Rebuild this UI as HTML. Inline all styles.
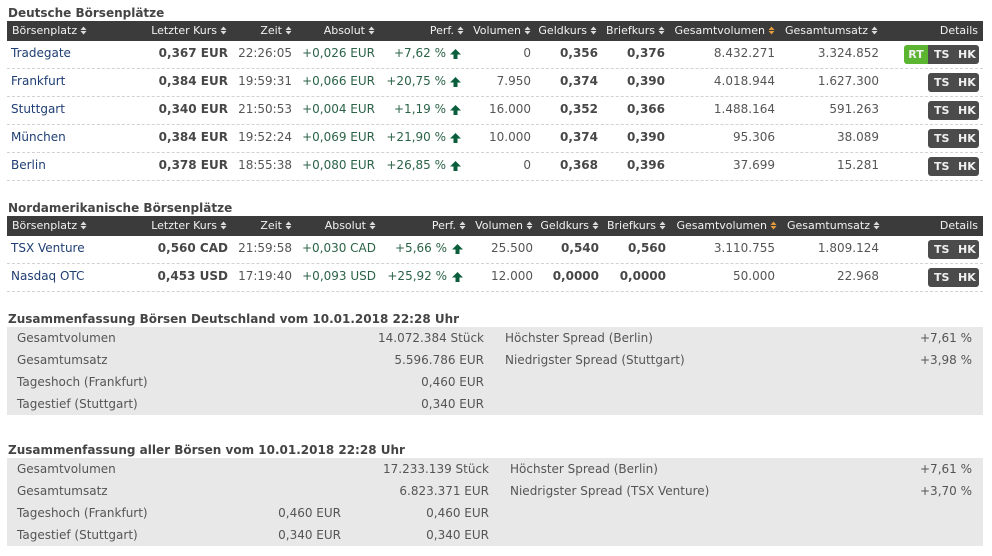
<!DOCTYPE html>
<html><head><meta charset="utf-8">
<style>
html,body{margin:0;padding:0;background:#fff;}
body{width:992px;height:556px;position:relative;overflow:hidden;font-family:"DejaVu Sans","Liberation Sans",Verdana,sans-serif;}
.a{position:absolute;white-space:nowrap;}
.t{position:absolute;left:8px;font-weight:bold;font-size:12px;line-height:20px;color:#444;}
.hb{position:absolute;left:7px;width:976px;height:20px;background:#3b3b3b;}
.h{position:absolute;top:0;white-space:nowrap;font-size:11px;line-height:20px;color:#f2f2f2;}
.h svg{margin-left:3px;vertical-align:-1px;}
.r{position:absolute;left:0;width:992px;height:28px;font-size:12px;line-height:24px;color:#555;}
.r .a{top:0;}
.sep{position:absolute;left:7px;width:976px;top:27px;height:0;border-top:1px dashed #d2d2d2;}
.n{left:11px;color:#1f3e72;}
.b{font-weight:bold;color:#474747;}
.g{color:#2b6347;}
.arr{position:absolute;top:8px;}
.btn{position:absolute;top:4px;height:19px;font-weight:bold;font-size:11px;line-height:19px;color:#f0f0f0;}
.rt{left:904px;width:24px;background:#5cb531;border-radius:3px 0 0 3px;text-align:center;}
.dk{left:928px;width:51px;background:#4b4b4b;border-radius:3px;}
.dk.j{border-radius:0 3px 3px 0;}
.dk span{position:absolute;top:0;}
.sb{position:absolute;left:7px;width:976px;height:88px;background:#e8e8e8;}
.sr{position:absolute;font-size:12px;line-height:22px;color:#555;white-space:nowrap;}
</style></head><body>

<div class="t" style="top:3px">Deutsche Börsenplätze</div>
<div class="hb" style="top:21px">
 <div class="h" style="left:5px">Börsenplatz<svg width="7" height="9"><path d="M0.5 4L3.5 0.5L6.5 4Z M0.5 5L3.5 8.5L6.5 5Z" fill="#ddd"/></svg></div>
 <div class="h" style="right:756px">Letzter Kurs<svg width="7" height="9"><path d="M0.5 4L3.5 0.5L6.5 4Z M0.5 5L3.5 8.5L6.5 5Z" fill="#ddd"/></svg></div>
 <div class="h" style="right:691px">Zeit<svg width="7" height="9"><path d="M0.5 4L3.5 0.5L6.5 4Z M0.5 5L3.5 8.5L6.5 5Z" fill="#ddd"/></svg></div>
 <div class="h" style="right:608px">Absolut<svg width="7" height="9"><path d="M0.5 4L3.5 0.5L6.5 4Z M0.5 5L3.5 8.5L6.5 5Z" fill="#ddd"/></svg></div>
 <div class="h" style="right:519px">Perf.<svg width="7" height="9"><path d="M0.5 4L3.5 0.5L6.5 4Z M0.5 5L3.5 8.5L6.5 5Z" fill="#ddd"/></svg></div>
 <div class="h" style="right:452px">Volumen<svg width="7" height="9"><path d="M0.5 4L3.5 0.5L6.5 4Z M0.5 5L3.5 8.5L6.5 5Z" fill="#ddd"/></svg></div>
 <div class="h" style="right:386px">Geldkurs<svg width="7" height="9"><path d="M0.5 4L3.5 0.5L6.5 4Z M0.5 5L3.5 8.5L6.5 5Z" fill="#ddd"/></svg></div>
 <div class="h" style="right:318px">Briefkurs<svg width="7" height="9"><path d="M0.5 4L3.5 0.5L6.5 4Z M0.5 5L3.5 8.5L6.5 5Z" fill="#ddd"/></svg></div>
 <div class="h" style="right:208px">Gesamtvolumen<svg width="7" height="9"><path d="M0.5 4L3.5 0.5L6.5 4Z M0.5 5L3.5 8.5L6.5 5Z" fill="#e39a3b"/></svg></div>
 <div class="h" style="right:105px">Gesamtumsatz<svg width="7" height="9"><path d="M0.5 4L3.5 0.5L6.5 4Z M0.5 5L3.5 8.5L6.5 5Z" fill="#ddd"/></svg></div>
 <div class="h" style="right:5px">Details</div>
</div>

<!-- Table 1 rows -->
<div class="r" style="top:41px">
 <div class="a n">Tradegate</div>
 <div class="a b" style="right:764px">0,367 EUR</div>
 <div class="a" style="right:700px">22:26:05</div>
 <div class="a g" style="right:617px">+0,026 EUR</div>
 <div class="a g" style="right:546px">+7,62 %</div>
 <svg class="arr" style="left:450px" width="11" height="10"><polygon points="5.5,0 11,5.5 7.5,5.5 7.5,10 3.5,10 3.5,5.5 0,5.5" fill="#0b5e3b"/></svg>
 <div class="a" style="right:461px">0</div>
 <div class="a b" style="right:394px">0,356</div>
 <div class="a b" style="right:327px">0,376</div>
 <div class="a" style="right:217px">8.432.271</div>
 <div class="a" style="right:113px">3.324.852</div>
 <div class="btn rt">RT</div>
 <div class="btn dk j"><span style="left:6px">TS</span><span style="left:30px">HK</span></div>
 <div class="sep"></div>
</div>
<div class="r" style="top:69px">
 <div class="a n">Frankfurt</div>
 <div class="a b" style="right:764px">0,384 EUR</div>
 <div class="a" style="right:700px">19:59:31</div>
 <div class="a g" style="right:617px">+0,066 EUR</div>
 <div class="a g" style="right:546px">+20,75 %</div>
 <svg class="arr" style="left:450px" width="11" height="10"><polygon points="5.5,0 11,5.5 7.5,5.5 7.5,10 3.5,10 3.5,5.5 0,5.5" fill="#0b5e3b"/></svg>
 <div class="a" style="right:461px">7.950</div>
 <div class="a b" style="right:394px">0,374</div>
 <div class="a b" style="right:327px">0,390</div>
 <div class="a" style="right:217px">4.018.944</div>
 <div class="a" style="right:113px">1.627.300</div>
 <div class="btn dk"><span style="left:6px">TS</span><span style="left:30px">HK</span></div>
 <div class="sep"></div>
</div>
<div class="r" style="top:97px">
 <div class="a n">Stuttgart</div>
 <div class="a b" style="right:764px">0,340 EUR</div>
 <div class="a" style="right:700px">21:50:53</div>
 <div class="a g" style="right:617px">+0,004 EUR</div>
 <div class="a g" style="right:546px">+1,19 %</div>
 <svg class="arr" style="left:450px" width="11" height="10"><polygon points="5.5,0 11,5.5 7.5,5.5 7.5,10 3.5,10 3.5,5.5 0,5.5" fill="#0b5e3b"/></svg>
 <div class="a" style="right:461px">16.000</div>
 <div class="a b" style="right:394px">0,352</div>
 <div class="a b" style="right:327px">0,366</div>
 <div class="a" style="right:217px">1.488.164</div>
 <div class="a" style="right:113px">591.263</div>
 <div class="btn dk"><span style="left:6px">TS</span><span style="left:30px">HK</span></div>
 <div class="sep"></div>
</div>
<div class="r" style="top:125px">
 <div class="a n">München</div>
 <div class="a b" style="right:764px">0,384 EUR</div>
 <div class="a" style="right:700px">19:52:24</div>
 <div class="a g" style="right:617px">+0,069 EUR</div>
 <div class="a g" style="right:546px">+21,90 %</div>
 <svg class="arr" style="left:450px" width="11" height="10"><polygon points="5.5,0 11,5.5 7.5,5.5 7.5,10 3.5,10 3.5,5.5 0,5.5" fill="#0b5e3b"/></svg>
 <div class="a" style="right:461px">10.000</div>
 <div class="a b" style="right:394px">0,374</div>
 <div class="a b" style="right:327px">0,390</div>
 <div class="a" style="right:217px">95.306</div>
 <div class="a" style="right:113px">38.089</div>
 <div class="btn dk"><span style="left:6px">TS</span><span style="left:30px">HK</span></div>
 <div class="sep"></div>
</div>
<div class="r" style="top:153px">
 <div class="a n">Berlin</div>
 <div class="a b" style="right:764px">0,378 EUR</div>
 <div class="a" style="right:700px">18:55:38</div>
 <div class="a g" style="right:617px">+0,080 EUR</div>
 <div class="a g" style="right:546px">+26,85 %</div>
 <svg class="arr" style="left:450px" width="11" height="10"><polygon points="5.5,0 11,5.5 7.5,5.5 7.5,10 3.5,10 3.5,5.5 0,5.5" fill="#0b5e3b"/></svg>
 <div class="a" style="right:461px">0</div>
 <div class="a b" style="right:394px">0,368</div>
 <div class="a b" style="right:327px">0,396</div>
 <div class="a" style="right:217px">37.699</div>
 <div class="a" style="right:113px">15.281</div>
 <div class="btn dk"><span style="left:6px">TS</span><span style="left:30px">HK</span></div>
 <div class="sep"></div>
</div>

<div class="t" style="top:198px">Nordamerikanische Börsenplätze</div>
<div class="hb" style="top:216px">
 <div class="h" style="left:5px">Börsenplatz<svg width="7" height="9"><path d="M0.5 4L3.5 0.5L6.5 4Z M0.5 5L3.5 8.5L6.5 5Z" fill="#ddd"/></svg></div>
 <div class="h" style="right:756px">Letzter Kurs<svg width="7" height="9"><path d="M0.5 4L3.5 0.5L6.5 4Z M0.5 5L3.5 8.5L6.5 5Z" fill="#ddd"/></svg></div>
 <div class="h" style="right:691px">Zeit<svg width="7" height="9"><path d="M0.5 4L3.5 0.5L6.5 4Z M0.5 5L3.5 8.5L6.5 5Z" fill="#ddd"/></svg></div>
 <div class="h" style="right:607px">Absolut<svg width="7" height="9"><path d="M0.5 4L3.5 0.5L6.5 4Z M0.5 5L3.5 8.5L6.5 5Z" fill="#ddd"/></svg></div>
 <div class="h" style="right:517px">Perf.<svg width="7" height="9"><path d="M0.5 4L3.5 0.5L6.5 4Z M0.5 5L3.5 8.5L6.5 5Z" fill="#ddd"/></svg></div>
 <div class="h" style="right:450px">Volumen<svg width="7" height="9"><path d="M0.5 4L3.5 0.5L6.5 4Z M0.5 5L3.5 8.5L6.5 5Z" fill="#ddd"/></svg></div>
 <div class="h" style="right:384px">Geldkurs<svg width="7" height="9"><path d="M0.5 4L3.5 0.5L6.5 4Z M0.5 5L3.5 8.5L6.5 5Z" fill="#ddd"/></svg></div>
 <div class="h" style="right:317px">Briefkurs<svg width="7" height="9"><path d="M0.5 4L3.5 0.5L6.5 4Z M0.5 5L3.5 8.5L6.5 5Z" fill="#ddd"/></svg></div>
 <div class="h" style="right:206px">Gesamtvolumen<svg width="7" height="9"><path d="M0.5 4L3.5 0.5L6.5 4Z M0.5 5L3.5 8.5L6.5 5Z" fill="#e39a3b"/></svg></div>
 <div class="h" style="right:103px">Gesamtumsatz<svg width="7" height="9"><path d="M0.5 4L3.5 0.5L6.5 4Z M0.5 5L3.5 8.5L6.5 5Z" fill="#ddd"/></svg></div>
 <div class="h" style="right:5px">Details</div>
</div>

<div class="r" style="top:236px">
 <div class="a n">TSX Venture</div>
 <div class="a b" style="right:764px">0,560 CAD</div>
 <div class="a" style="right:700px">21:59:58</div>
 <div class="a g" style="right:616px">+0,030 CAD</div>
 <div class="a g" style="right:545px">+5,66 %</div>
 <svg class="arr" style="left:452px" width="11" height="10"><polygon points="5.5,0 11,5.5 7.5,5.5 7.5,10 3.5,10 3.5,5.5 0,5.5" fill="#0b5e3b"/></svg>
 <div class="a" style="right:459px">25.500</div>
 <div class="a b" style="right:393px">0,540</div>
 <div class="a b" style="right:326px">0,560</div>
 <div class="a" style="right:217px">3.110.755</div>
 <div class="a" style="right:113px">1.809.124</div>
 <div class="btn dk"><span style="left:6px">TS</span><span style="left:30px">HK</span></div>
 <div class="sep"></div>
</div>
<div class="r" style="top:264px">
 <div class="a n">Nasdaq OTC</div>
 <div class="a b" style="right:764px">0,453 USD</div>
 <div class="a" style="right:700px">17:19:40</div>
 <div class="a g" style="right:616px">+0,093 USD</div>
 <div class="a g" style="right:545px">+25,92 %</div>
 <svg class="arr" style="left:452px" width="11" height="10"><polygon points="5.5,0 11,5.5 7.5,5.5 7.5,10 3.5,10 3.5,5.5 0,5.5" fill="#0b5e3b"/></svg>
 <div class="a" style="right:459px">12.000</div>
 <div class="a b" style="right:393px">0,0000</div>
 <div class="a b" style="right:326px">0,0000</div>
 <div class="a" style="right:217px">50.000</div>
 <div class="a" style="right:113px">22.968</div>
 <div class="btn dk"><span style="left:6px">TS</span><span style="left:30px">HK</span></div>
 <div class="sep"></div>
</div>

<!-- Summary 1 -->
<div class="t" style="top:309px">Zusammenfassung Börsen Deutschland vom 10.01.2018 22:28 Uhr</div>
<div class="sb" style="top:327px"></div>
<div class="sr" style="left:17px;top:327px">Gesamtvolumen</div>
<div class="sr" style="left:17px;top:349px">Gesamtumsatz</div>
<div class="sr" style="left:17px;top:371px">Tageshoch (Frankfurt)</div>
<div class="sr" style="left:17px;top:393px">Tagestief (Stuttgart)</div>
<div class="sr" style="right:508px;top:327px">14.072.384 Stück</div>
<div class="sr" style="right:508px;top:349px">5.596.786 EUR</div>
<div class="sr" style="right:508px;top:371px">0,460 EUR</div>
<div class="sr" style="right:508px;top:393px">0,340 EUR</div>
<div class="sr" style="left:505px;top:327px">Höchster Spread (Berlin)</div>
<div class="sr" style="left:505px;top:349px">Niedrigster Spread (Stuttgart)</div>
<div class="sr" style="right:20px;top:327px">+7,61 %</div>
<div class="sr" style="right:20px;top:349px">+3,98 %</div>

<!-- Summary 2 -->
<div class="t" style="top:440px">Zusammenfassung aller Börsen vom 10.01.2018 22:28 Uhr</div>
<div class="sb" style="top:458px"></div>
<div class="sr" style="left:17px;top:458px">Gesamtvolumen</div>
<div class="sr" style="left:17px;top:480px">Gesamtumsatz</div>
<div class="sr" style="left:17px;top:502px">Tageshoch (Frankfurt)</div>
<div class="sr" style="left:17px;top:524px">Tagestief (Stuttgart)</div>
<div class="sr" style="right:651px;top:502px">0,460 EUR</div>
<div class="sr" style="right:651px;top:524px">0,340 EUR</div>
<div class="sr" style="right:503px;top:458px">17.233.139 Stück</div>
<div class="sr" style="right:503px;top:480px">6.823.371 EUR</div>
<div class="sr" style="right:503px;top:502px">0,460 EUR</div>
<div class="sr" style="right:503px;top:524px">0,340 EUR</div>
<div class="sr" style="left:510px;top:458px">Höchster Spread (Berlin)</div>
<div class="sr" style="left:510px;top:480px">Niedrigster Spread (TSX Venture)</div>
<div class="sr" style="right:20px;top:458px">+7,61 %</div>
<div class="sr" style="right:20px;top:480px">+3,70 %</div>

</body></html>
